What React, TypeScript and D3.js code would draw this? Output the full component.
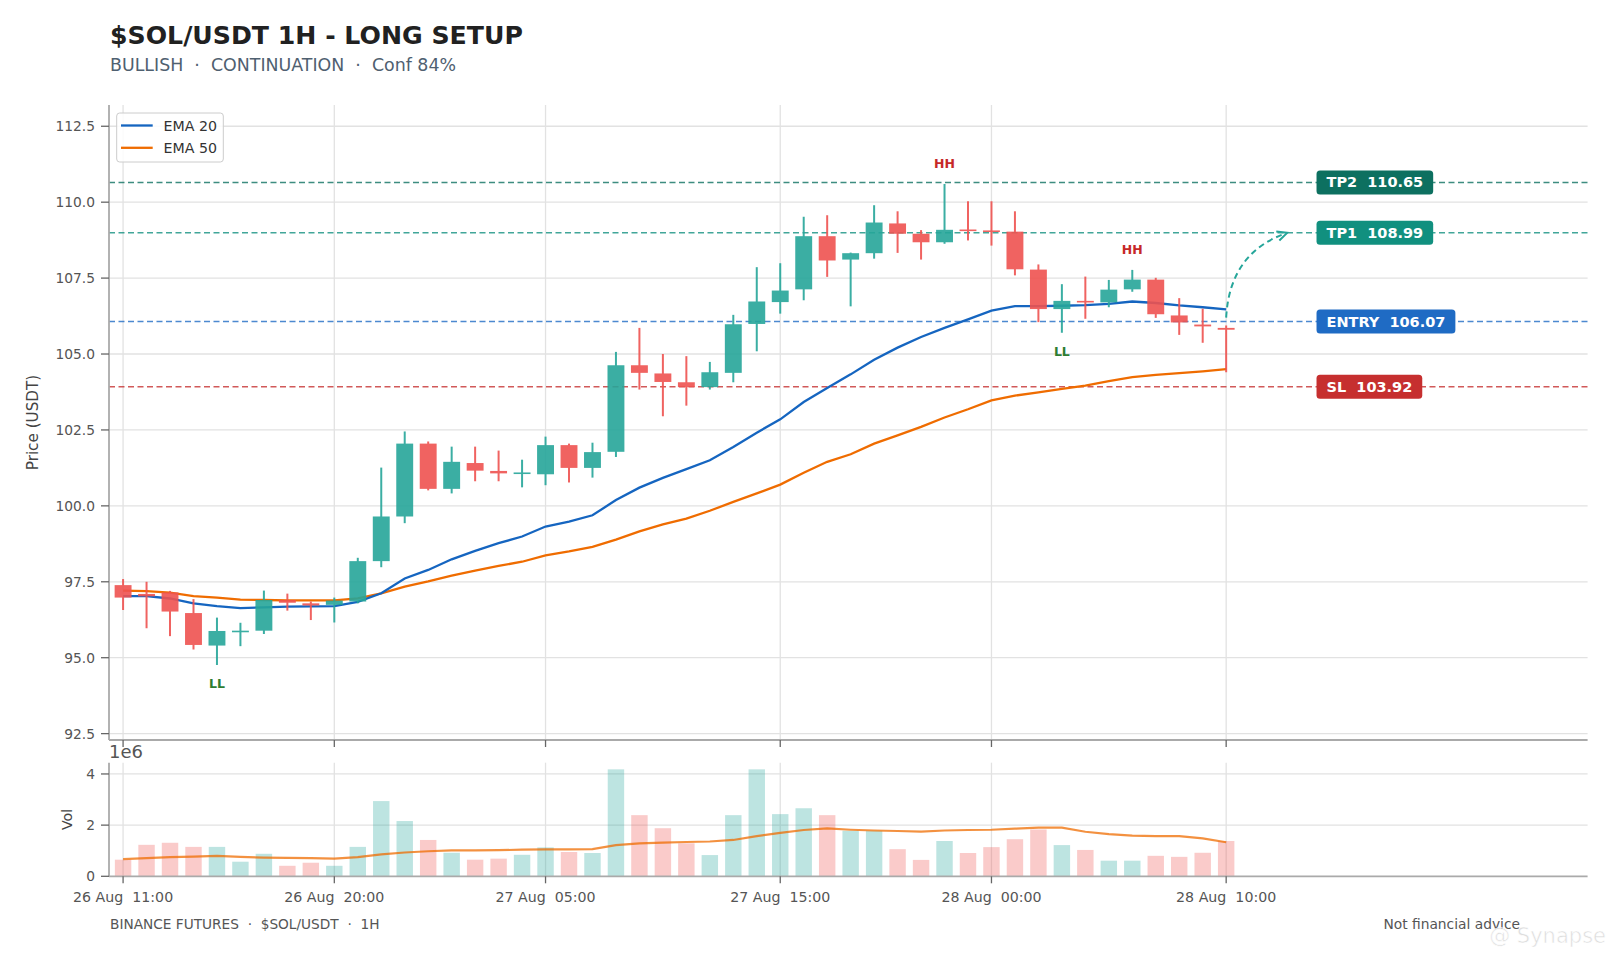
import React from 'react';
import * as d3 from 'd3';

// hourly candles, 26 Aug 11:00 -> 28 Aug 10:00
const opens = [97.39, 97.10, 97.15, 96.47, 95.40, 95.86, 95.89, 96.90, 96.79, 96.74, 96.85, 98.18, 99.65, 102.05, 100.56, 101.41, 101.15, 101.07, 101.04, 102.00, 101.25, 101.78, 104.63, 104.36, 104.07, 103.91, 104.38, 105.99, 106.71, 107.13, 108.88, 108.11, 108.32, 109.30, 108.96, 108.68, 109.10, 109.07, 109.03, 107.78, 106.48, 106.75, 106.70, 107.13, 107.45, 106.27, 105.97, 105.86];
const highs = [97.59, 97.50, 97.20, 96.93, 96.32, 96.15, 97.21, 97.11, 96.85, 96.98, 98.29, 101.26, 102.45, 102.12, 101.95, 101.95, 101.82, 101.52, 102.28, 102.05, 102.08, 105.07, 105.86, 105.00, 104.93, 104.74, 106.29, 107.86, 107.99, 109.52, 109.57, 108.34, 109.90, 109.70, 109.08, 110.60, 110.03, 110.03, 109.70, 107.95, 107.30, 107.55, 107.44, 107.77, 107.51, 106.84, 106.49, 105.94];
const lows = [96.57, 95.97, 95.71, 95.27, 94.76, 95.38, 95.78, 96.55, 96.24, 96.16, 96.79, 97.98, 99.43, 100.51, 100.41, 100.81, 100.81, 100.61, 100.68, 100.77, 100.93, 101.61, 103.83, 102.95, 103.30, 103.83, 104.07, 105.09, 106.33, 106.77, 107.54, 106.57, 108.14, 108.33, 108.11, 108.63, 108.74, 108.57, 107.59, 106.05, 105.70, 106.16, 106.54, 107.05, 106.19, 105.63, 105.37, 104.40];
const closes = [96.98, 97.02, 96.52, 95.42, 95.88, 95.89, 96.90, 96.81, 96.72, 96.88, 98.18, 99.65, 102.05, 100.56, 101.45, 101.16, 101.07, 101.10, 102.00, 101.25, 101.77, 104.63, 104.38, 104.08, 103.91, 104.40, 105.98, 106.73, 107.09, 108.88, 108.08, 108.32, 109.33, 108.96, 108.68, 109.09, 109.07, 109.03, 107.79, 106.48, 106.75, 106.70, 107.12, 107.45, 106.31, 106.04, 105.91, 105.80];

const ema20 = [97.03, 97.03, 96.95, 96.79, 96.70, 96.63, 96.66, 96.68, 96.69, 96.70, 96.84, 97.12, 97.61, 97.89, 98.24, 98.52, 98.77, 98.99, 99.32, 99.48, 99.69, 100.19, 100.60, 100.92, 101.21, 101.50, 101.94, 102.41, 102.85, 103.42, 103.88, 104.33, 104.81, 105.21, 105.56, 105.86, 106.14, 106.43, 106.58, 106.58, 106.59, 106.61, 106.65, 106.73, 106.68, 106.60, 106.54, 106.47];
const ema50 = [97.21, 97.19, 97.14, 97.03, 96.98, 96.91, 96.90, 96.89, 96.89, 96.89, 96.95, 97.12, 97.34, 97.51, 97.70, 97.87, 98.02, 98.16, 98.37, 98.50, 98.65, 98.89, 99.16, 99.39, 99.58, 99.84, 100.13, 100.41, 100.70, 101.09, 101.45, 101.70, 102.05, 102.32, 102.60, 102.91, 103.18, 103.47, 103.63, 103.74, 103.85, 103.96, 104.11, 104.24, 104.31, 104.37, 104.43, 104.50];

// volume in millions
const volumes = [0.65, 1.23, 1.31, 1.15, 1.15, 0.57, 0.88, 0.41, 0.53, 0.41, 1.15, 2.94, 2.16, 1.42, 0.92, 0.65, 0.69, 0.84, 1.13, 0.95, 0.91, 4.18, 2.39, 1.88, 1.29, 0.83, 2.39, 4.18, 2.43, 2.66, 2.39, 1.78, 1.78, 1.06, 0.64, 1.38, 0.91, 1.14, 1.45, 1.83, 1.22, 1.03, 0.61, 0.61, 0.80, 0.76, 0.92, 1.38];
const volMA = [0.67, 0.71, 0.75, 0.77, 0.80, 0.76, 0.73, 0.72, 0.71, 0.69, 0.75, 0.86, 0.93, 0.98, 1.01, 1.01, 1.02, 1.04, 1.05, 1.05, 1.06, 1.22, 1.29, 1.32, 1.34, 1.36, 1.42, 1.57, 1.70, 1.81, 1.87, 1.82, 1.79, 1.77, 1.75, 1.79, 1.81, 1.82, 1.86, 1.90, 1.90, 1.74, 1.65, 1.59, 1.57, 1.57, 1.48, 1.33];

const NB = '\u00a0';
const xTickIndex = [0, 9, 18, 28, 37, 47];
const xTickLabels = ['26 Aug  11:00', '26 Aug  20:00', '27 Aug  05:00', '27 Aug  15:00', '28 Aug  00:00', '28 Aug  10:00'];
const priceTicks = [92.5, 95, 97.5, 100, 102.5, 105, 107.5, 110, 112.5];
const volTicks = [0, 2, 4];

const levelNames = ['TP2', 'TP1', 'ENTRY', 'SL'];
const levelValues = [110.65, 108.99, 106.07, 103.92];
const levelColors = ['#0d7060', '#11907f', '#1f6bc4', '#c62f2f'];

const swingLabels = ['LL', 'HH', 'LL', 'HH'];
const swingIndex = [4, 35, 40, 43];

const UP = '#26a69a';
const DOWN = '#ef5350';
const FONT = 'DejaVu Sans, sans-serif';

const W = 1612;
const H = 957;
const left = 109;
const right = 1587.6;
const pTop = 105;
const pBottom = 740;
const vTop = 762.7;
const vBottom = 876.3;
const tickLen = 8;

// keep runs of spaces visible inside svg text
const keep = (s: string) => s.replace(/ {2}/g, NB + NB);

function textWidth(s: string, font: string) {
  const ctx = document.createElement('canvas').getContext('2d');
  if (!ctx) return s.length * 9;
  ctx.font = font;
  return ctx.measureText(s).width;
}

export default function App() {
  const x = d3.scaleLinear().domain([-0.6, 62.4]).range([left, right]);
  const y = d3.scaleLinear().domain([92.29, 113.2]).range([pBottom, pTop]);
  const yv = d3.scaleLinear().domain([0, 4.44]).range([vBottom, vTop]);
  const step = x(1) - x(0);
  const bodyW = step * 0.72;
  const volW = step * 0.7;

  const idx = d3.range(closes.length);
  const line20 = d3.line<number>().x(i => x(i)).y(i => y(ema20[i]))(idx) || '';
  const line50 = d3.line<number>().x(i => x(i)).y(i => y(ema50[i]))(idx) || '';
  const lineVol = d3.line<number>().x(i => x(i)).y(i => yv(volMA[i]))(idx) || '';

  // projected path to TP1
  const a0 = [x(47), y(106.2)];
  const a1 = [x(49.6), y(108.99)];
  const ac = [x(47.15), y(108.35)];
  const ang = Math.atan2(a1[1] - ac[1], a1[0] - ac[0]);
  const head = 11;
  const hA = [a1[0] - head * Math.cos(ang - 0.45), a1[1] - head * Math.sin(ang - 0.45)];
  const hB = [a1[0] - head * Math.cos(ang + 0.45), a1[1] - head * Math.sin(ang + 0.45)];

  const labelFont = `bold 14.5px DejaVu Sans`;

  return (
    <svg width={W} height={H} style={{ position: 'absolute', left: 0, top: 0, background: '#fff' }} fontFamily={FONT}>
      <rect width={W} height={H} fill="#fff" />

      {/* title */}
      <text x={110} y={44} fontSize={25.2} fontWeight="bold" fill="#212121">$SOL/USDT 1H - LONG SETUP</text>
      <text x={110} y={71} fontSize={17.4} fill="#4f6070">{keep('BULLISH  ·  CONTINUATION  ·  Conf 84%')}</text>

      {/* price grid */}
      {priceTicks.map(t => (
        <line key={'pg' + t} x1={left} x2={right} y1={y(t)} y2={y(t)} stroke="#e2e2e2" strokeWidth={1.3} />
      ))}
      {xTickIndex.map(i => (
        <line key={'pv' + i} x1={x(i)} x2={x(i)} y1={pTop} y2={pBottom} stroke="#e2e2e2" strokeWidth={1.3} />
      ))}

      {/* levels */}
      {levelValues.map((v, k) => (
        <line key={'lv' + k} x1={left} x2={right} y1={y(v)} y2={y(v)} stroke={levelColors[k]} strokeOpacity={0.8} strokeWidth={1.5} strokeDasharray="6,3.5" />
      ))}

      {/* EMAs */}
      <path d={line50} fill="none" stroke="#ef6c00" strokeWidth={2.3} />
      <path d={line20} fill="none" stroke="#1565c0" strokeWidth={2.3} />

      {/* candles */}
      {idx.map(i => {
        const up = closes[i] >= opens[i];
        const c = up ? UP : DOWN;
        const top = y(Math.max(opens[i], closes[i]));
        const bot = y(Math.min(opens[i], closes[i]));
        const h = Math.max(bot - top, 1.6);
        return (
          <g key={'c' + i} opacity={0.9}>
            <line x1={x(i)} x2={x(i)} y1={y(highs[i])} y2={y(lows[i])} stroke={c} strokeWidth={2} />
            <rect x={x(i) - bodyW / 2} y={top} width={bodyW} height={h} fill={c} />
          </g>
        );
      })}

      {/* swing labels */}
      {swingIndex.map((i, k) => {
        const hh = swingLabels[k] === 'HH';
        return (
          <text key={'sw' + k} x={x(i)} y={hh ? y(highs[i] + 0.68) : y(lows[i] - 0.62)} fontSize={12.5} fontWeight="bold"
            fill={hh ? '#c62828' : '#2e7d32'} textAnchor="middle" dominantBaseline="central">{swingLabels[k]}</text>
        );
      })}

      {/* arrow to TP1 */}
      <path d={`M${a0[0]},${a0[1]} Q${ac[0]},${ac[1]} ${a1[0]},${a1[1]}`} fill="none" stroke={UP} strokeWidth={2} strokeDasharray="6,4" />
      <path d={`M${hA[0]},${hA[1]} L${a1[0]},${a1[1]} L${hB[0]},${hB[1]}`} fill="none" stroke={UP} strokeWidth={2} />

      {/* level tags */}
      {levelValues.map((v, k) => {
        const txt = keep(`${levelNames[k]}  ${v.toFixed(2)}`);
        const tw = textWidth(txt, labelFont);
        const bx = x(50.85);
        return (
          <g key={'tag' + k}>
            <rect x={bx} y={y(v) - 12} width={tw + 20} height={24} rx={3.5} fill={levelColors[k]} />
            <text x={bx + 10} y={y(v)} dominantBaseline="central" fontSize={14.5} fontWeight="bold" fill="#fff">{txt}</text>
          </g>
        );
      })}

      {/* legend */}
      <rect x={116.7} y={113} width={106.6} height={49} rx={3} fill="#fff" fillOpacity={0.85} stroke="#cccccc" />
      <line x1={121} x2={152.7} y1={125.5} y2={125.5} stroke="#1565c0" strokeWidth={2.3} />
      <line x1={121} x2={152.7} y1={147.8} y2={147.8} stroke="#ef6c00" strokeWidth={2.3} />
      <text x={163.5} y={125.5} dominantBaseline="central" fontSize={14.2} fill="#333">EMA 20</text>
      <text x={163.5} y={147.8} dominantBaseline="central" fontSize={14.2} fill="#333">EMA 50</text>

      {/* price axes */}
      <line x1={left} x2={left} y1={pTop} y2={pBottom} stroke="#aaaaaa" strokeWidth={1.8} />
      <line x1={left} x2={right} y1={pBottom} y2={pBottom} stroke="#aaaaaa" strokeWidth={1.8} />
      {priceTicks.map(t => (
        <g key={'pt' + t}>
          <line x1={left - tickLen} x2={left} y1={y(t)} y2={y(t)} stroke="#666" strokeWidth={1.3} />
          <text x={left - tickLen - 6} y={y(t)} textAnchor="end" dominantBaseline="central" fontSize={13.8} fill="#555">{t.toFixed(1)}</text>
        </g>
      ))}
      {xTickIndex.map(i => (
        <line key={'pxt' + i} x1={x(i)} x2={x(i)} y1={pBottom} y2={pBottom + 7} stroke="#666" strokeWidth={1.3} />
      ))}
      <text transform={`translate(33,${(pTop + pBottom) / 2}) rotate(-90)`} textAnchor="middle" dominantBaseline="central" fontSize={15.2} fill="#444">Price (USDT)</text>

      {/* volume pane */}
      {volTicks.filter(t => t > 0).map(t => (
        <line key={'vg' + t} x1={left} x2={right} y1={yv(t)} y2={yv(t)} stroke="#e2e2e2" strokeWidth={1.3} />
      ))}
      {xTickIndex.map(i => (
        <line key={'vv' + i} x1={x(i)} x2={x(i)} y1={vTop} y2={vBottom} stroke="#e2e2e2" strokeWidth={1.3} />
      ))}
      {idx.map(i => (
        <rect key={'v' + i} x={x(i) - volW / 2} y={yv(volumes[i])} width={volW} height={vBottom - yv(volumes[i])}
          fill={closes[i] >= opens[i] ? UP : DOWN} fillOpacity={0.3} />
      ))}
      <path d={lineVol} fill="none" stroke="#ef6c00" strokeOpacity={0.75} strokeWidth={2.2} />
      <line x1={left} x2={left} y1={vTop} y2={vBottom} stroke="#aaaaaa" strokeWidth={1.8} />
      <line x1={left} x2={right} y1={vBottom} y2={vBottom} stroke="#aaaaaa" strokeWidth={1.8} />
      {volTicks.map(t => (
        <g key={'vt' + t}>
          <line x1={left - tickLen} x2={left} y1={yv(t)} y2={yv(t)} stroke="#666" strokeWidth={1.3} />
          <text x={left - tickLen - 6} y={yv(t)} textAnchor="end" dominantBaseline="central" fontSize={13.8} fill="#555">{t}</text>
        </g>
      ))}
      <text x={left} y={758} fontSize={18} fill="#555">1e6</text>
      <text transform={`translate(67,${(vTop + vBottom) / 2}) rotate(-90)`} textAnchor="middle" dominantBaseline="central" fontSize={14.2} fill="#444">Vol</text>
      {xTickIndex.map((i, k) => (
        <g key={'xt' + i}>
          <line x1={x(i)} x2={x(i)} y1={vBottom} y2={vBottom + 7} stroke="#666" strokeWidth={1.3} />
          <text x={x(i)} y={897} textAnchor="middle" dominantBaseline="central" fontSize={14.2} fill="#555">{keep(xTickLabels[k])}</text>
        </g>
      ))}

      {/* footer */}
      <text x={110} y={924} dominantBaseline="central" fontSize={13.7} fill="#555">{keep('BINANCE FUTURES  ·  $SOL/USDT  ·  1H')}</text>
      <text x={1520} y={924} textAnchor="end" dominantBaseline="central" fontSize={13.8} fill="#555">Not financial advice</text>
      <text x={1606} y={936} textAnchor="end" dominantBaseline="central" fontSize={21} fill="#d4d4d4" fillOpacity={0.8} stroke="#fff" strokeWidth={0.6}>@ Synapse</text>
    </svg>
  );
}
